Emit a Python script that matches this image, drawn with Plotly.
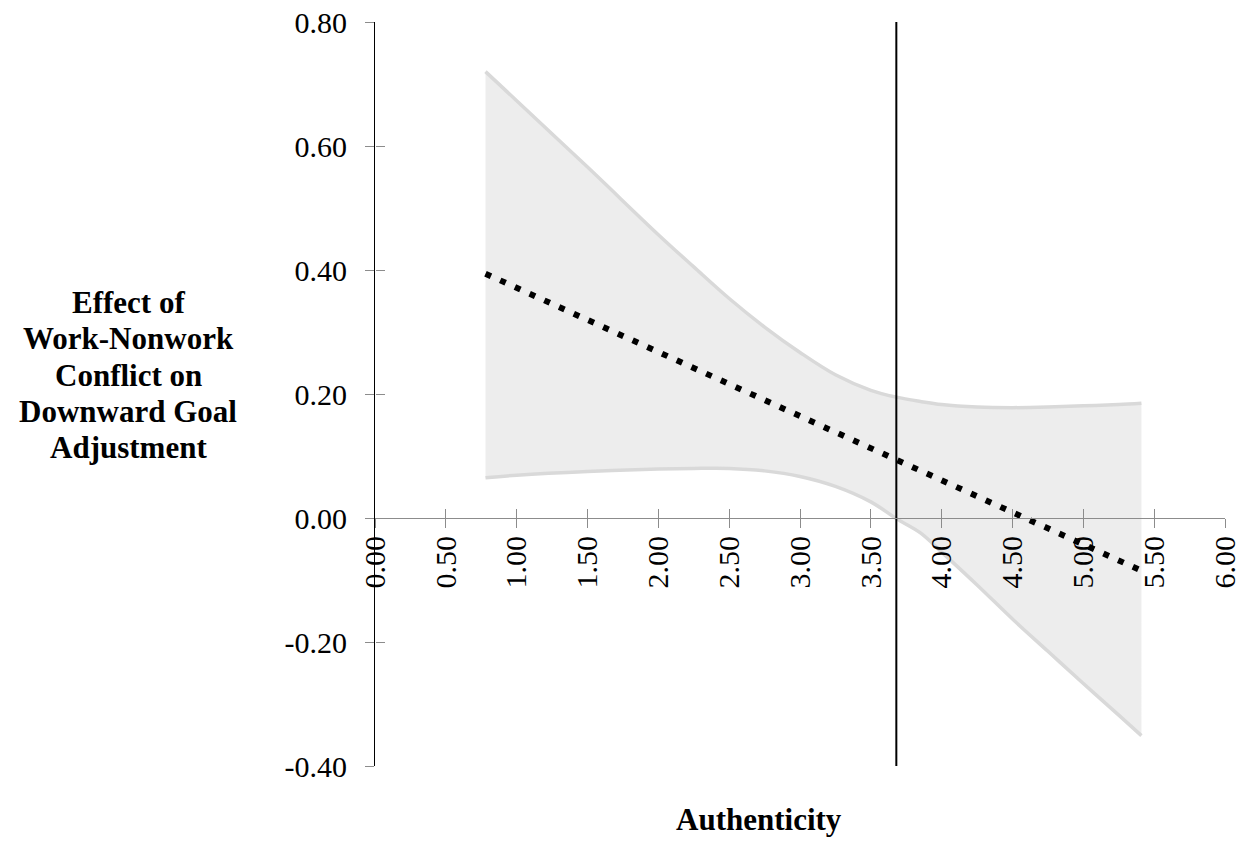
import plotly.graph_objects as go

# ---- data ----
x_band = [0.78, 1.0, 1.5, 2.0, 2.25, 2.5, 2.75, 3.0, 3.25, 3.5, 3.68, 3.85, 4.0,
          4.25, 4.5, 4.75, 5.0, 5.25, 5.41]
upper_ci = [0.720, 0.673, 0.566, 0.457, 0.405, 0.354, 0.308, 0.267, 0.231, 0.206, 0.195, 0.188, 0.183,
            0.179, 0.178, 0.179, 0.181, 0.183, 0.185]
lower_ci = [0.065, 0.069, 0.075, 0.079, 0.080, 0.080, 0.076, 0.067, 0.051, 0.026, -0.001, -0.024, -0.055,
            -0.108, -0.163, -0.215, -0.267, -0.318, -0.351]

x_effect = [0.78, 5.41]
y_effect = [0.394, -0.085]

mean_authenticity = 3.68

x_tickvals = [0.0, 0.5, 1.0, 1.5, 2.0, 2.5, 3.0, 3.5, 4.0, 4.5, 5.0, 5.5, 6.0]
x_ticktext = ["0.00", "0.50", "1.00", "1.50", "2.00", "2.50", "3.00", "3.50",
              "4.00", "4.50", "5.00", "5.50", "6.00"]
y_tickvals = [-0.4, -0.2, 0.0, 0.2, 0.4, 0.6, 0.8]
y_ticktext = ["-0.40", "-0.20", "0.00", "0.20", "0.40", "0.60", "0.80"]

x_range = [0, 6]
y_range = [-0.4, 0.8]

x_title = "Authenticity"
y_title_lines = ["Effect of", "Work-Nonwork", "Conflict on", "Downward Goal", "Adjustment"]

# ---- styling ----
FONT = "Liberation Serif"
BAND_FILL = "#ededed"
BAND_EDGE = "#d9d9d9"
AXIS_GRAY = "#8c8c8c"
PLOT_TOP = 22.3
PLOT_H = 744.0  # plot-area height in px, used to place the stacked title lines

fig = go.Figure()

fig.add_trace(go.Scatter(
    x=x_band, y=lower_ci, mode="lines",
    line=dict(color=BAND_EDGE, width=3.5, shape="spline", smoothing=1.0),
    hoverinfo="skip", showlegend=False,
))
fig.add_trace(go.Scatter(
    x=x_band, y=upper_ci, mode="lines", fill="tonexty", fillcolor=BAND_FILL,
    line=dict(color=BAND_EDGE, width=3.5, shape="spline", smoothing=1.0),
    hoverinfo="skip", showlegend=False,
))
fig.add_trace(go.Scatter(
    x=[mean_authenticity, mean_authenticity], y=y_range, mode="lines",
    line=dict(color="black", width=2),
    hoverinfo="skip", showlegend=False,
))
fig.add_trace(go.Scatter(
    x=x_effect, y=y_effect, mode="lines",
    line=dict(color="black", width=6, dash="6px,10.15px"),
    hoverinfo="skip", showlegend=False,
))
# dummy trace for the overlay axes that draw the inner half of the crossing ticks
fig.add_trace(go.Scatter(
    x=[None], y=[None], xaxis="x2", yaxis="y2", mode="markers",
    hoverinfo="skip", showlegend=False,
))

x_axis_pos = (0 - y_range[0]) / (y_range[1] - y_range[0])
tickfont = dict(family=FONT, size=30, color="black")
titlefont = dict(family=FONT, size=31, color="black")

annotations = []
first_line_y = 1.0 - (303.0 - PLOT_TOP) / PLOT_H
line_step = 36.2 / PLOT_H
for i, line in enumerate(y_title_lines):
    annotations.append(dict(
        text="<b>" + line + "</b>",
        xref="paper", yref="paper", x=-0.2904, y=first_line_y - i * line_step,
        xanchor="center", yanchor="middle", align="center", showarrow=False,
        font=titlefont,
    ))
annotations.append(dict(
    text="<b>" + x_title + "</b>",
    xref="paper", yref="paper", x=0.452, y=-0.0715,
    xanchor="center", yanchor="middle", showarrow=False,
    font=titlefont,
))

fig.update_layout(
    width=1241, height=841,
    margin=dict(l=375, r=16, t=22, b=75, autoexpand=False),
    paper_bgcolor="white", plot_bgcolor="white",
    xaxis=dict(
        range=x_range, tickmode="array", tickvals=x_tickvals, ticktext=x_ticktext,
        tickangle=-90, tickfont=tickfont, ticklabelstandoff=-4,
        ticklabeloverflow="allow", automargin=False,
        anchor="free", position=x_axis_pos,
        showline=True, linecolor=AXIS_GRAY, linewidth=1,
        ticks="outside", ticklen=9, tickcolor=AXIS_GRAY, tickwidth=1,
        showgrid=False, zeroline=False,
    ),
    yaxis=dict(
        range=y_range, tickmode="array", tickvals=y_tickvals, ticktext=y_ticktext,
        tickfont=tickfont, ticklabelstandoff=12,
        ticklabeloverflow="allow", automargin=False,
        showline=True, linecolor="black", linewidth=1,
        ticks="outside", ticklen=9, tickcolor=AXIS_GRAY, tickwidth=1,
        showgrid=False, zeroline=False,
    ),
    xaxis2=dict(
        range=x_range, overlaying="x", anchor="free", position=x_axis_pos,
        tickmode="array", tickvals=x_tickvals, showticklabels=False, automargin=False,
        ticks="inside", ticklen=9, tickcolor=AXIS_GRAY, tickwidth=1,
        showline=False, showgrid=False, zeroline=False,
    ),
    yaxis2=dict(
        range=y_range, overlaying="y", anchor="free", position=0, side="left",
        tickmode="array", tickvals=y_tickvals, showticklabels=False, automargin=False,
        ticks="inside", ticklen=9, tickcolor=AXIS_GRAY, tickwidth=1,
        showline=False, showgrid=False, zeroline=False,
    ),
    annotations=annotations,
)

# the page's default 8px body margin would push the 1241x841 figure out of the window
fig.write_html(
    "out.html",
    config={"displayModeBar": False},
    post_script="document.body.style.margin='0px';",
)
